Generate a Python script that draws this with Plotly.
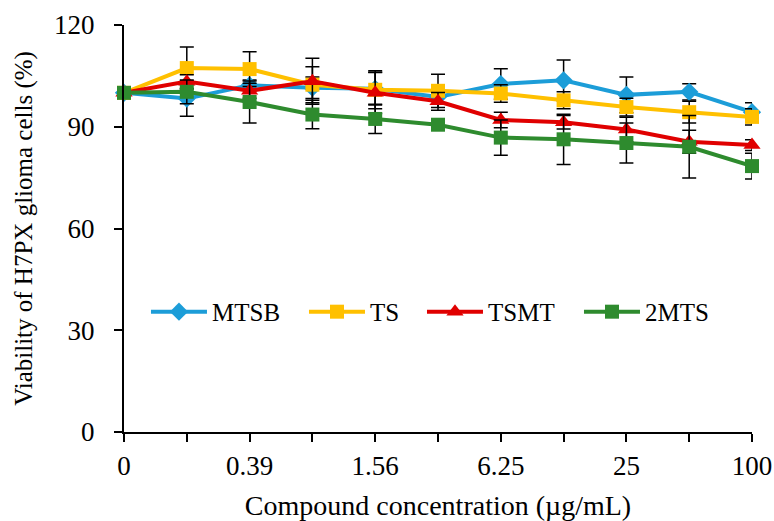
import plotly.graph_objects as go

conc_labels = ["0", "", "0.39", "", "1.56", "", "6.25", "", "25", "", "100"]
xpos = list(range(11))

mtsb = [100, 98.3, 102.2, 101.5, 101.2, 98.8, 102.6, 103.7, 99.4, 100.3, 94.3]
ts = [100, 107.3, 107.0, 102.4, 100.9, 100.6, 99.8, 97.8, 95.8, 94.3, 92.9]
tsmt = [100, 103.3, 100.6, 103.4, 100.0, 97.5, 92.0, 91.3, 89.2, 85.6, 84.6]
mts2 = [100, 100.3, 97.3, 93.6, 92.3, 90.6, 86.8, 86.3, 85.2, 84.1, 78.4]

mtsb_err = [0, 5.2, 1.6, 3.2, 4.8, 2.0, 4.5, 6.0, 5.3, 2.4, 2.8]
ts_err = [0, 6.2, 5.1, 5.3, 5.6, 4.9, 2.6, 2.5, 2.6, 3.2, 2.4]
tsmt_err = [0, 2.0, 2.2, 6.8, 6.1, 2.6, 2.3, 2.0, 3.6, 3.4, 1.6]
mts2_err = [0, 3.5, 6.2, 4.2, 4.3, 1.6, 5.2, 7.4, 5.9, 9.2, 3.8]

series = [
    ("MTSB", mtsb, mtsb_err, "#1c9dd8", "diamond", 14, "legend", 0.035),
    ("TS", ts, ts_err, "#ffc000", "square", 14, "legend2", 0.2866),
    ("TSMT", tsmt, tsmt_err, "#e00000", "triangle-up", 15, "legend3", 0.4745),
    ("2MTS", mts2, mts2_err, "#2e8b2e", "square", 14, "legend4", 0.7245),
]

font_family = "Liberation Serif"
fig = go.Figure()
legends = {}
for name, vals, err, color, sym, size, leg, lx in series:
    fig.add_trace(go.Scatter(
        x=xpos, y=vals, name=name, mode="lines+markers",
        line=dict(color=color, width=4),
        marker=dict(symbol=sym, size=size, color=color),
        error_y=dict(type="data", array=err, visible=True, color="black",
                     thickness=1.5, width=7),
        cliponaxis=False, legend=leg,
    ))
    legends[leg] = dict(orientation="h", x=lx, y=0.295, xanchor="left", yanchor="middle",
                        bgcolor="rgba(0,0,0,0)", font=dict(size=25), itemwidth=56,
                        borderwidth=0)

fig.update_layout(
    width=774, height=521,
    margin=dict(l=124, r=22, t=25, b=89),
    paper_bgcolor="white", plot_bgcolor="white",
    font=dict(family=font_family, size=25, color="black"),
    showlegend=True,
    **legends,
    xaxis=dict(
        range=[0, 10], tickvals=xpos, ticktext=conc_labels,
        showline=True, linecolor="black", linewidth=2,
        ticks="outside", ticklen=8, tickwidth=1.5, tickcolor="black",
        showgrid=False, zeroline=False, automargin=False,
        ticklabelstandoff=1,
        title=dict(text="Compound concentration (µg/mL)", standoff=17, font=dict(size=28)),
        tickfont=dict(size=27),
    ),
    yaxis=dict(
        range=[0, 120], tickvals=[0, 30, 60, 90, 120],
        showline=True, linecolor="black", linewidth=2,
        ticks="outside", ticklen=8, tickwidth=1.5, tickcolor="black",
        showgrid=False, zeroline=False, automargin=False,
        ticklabelstandoff=14,
        title=dict(text="Viability of H7PX glioma cells (%)", standoff=14, font=dict(size=25)),
        tickfont=dict(size=27),
    ),
)

fig.write_html("out.html", config={"displayModeBar": False},
               post_script="document.body.style.margin='0';")
